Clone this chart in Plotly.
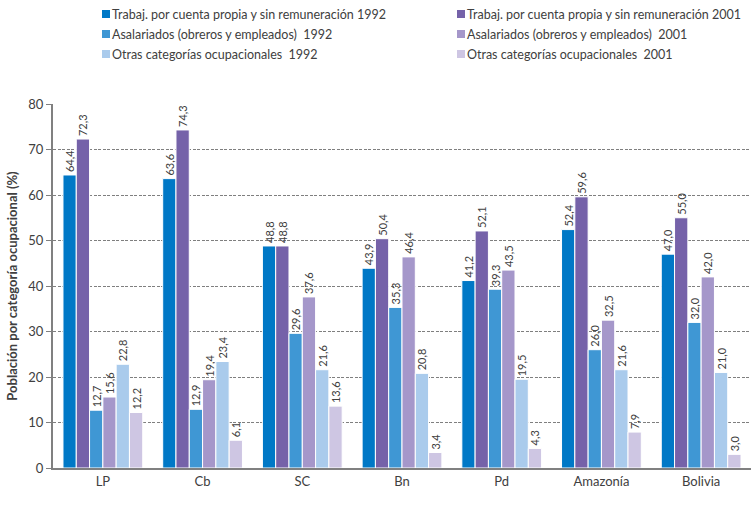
import plotly.graph_objects as go

categories = ["LP", "Cb", "SC", "Bn", "Pd", "Amazonía", "Bolivia"]
series_names = [
    "Trabaj. por cuenta propia y sin remuneración 1992",
    "Trabaj. por cuenta propia y sin remuneración 2001",
    "Asalariados (obreros y empleados)  1992",
    "Asalariados (obreros y empleados)  2001",
    "Otras categorías ocupacionales  1992",
    "Otras categorías ocupacionales  2001",
]
trabaj_1992 = [64.4, 63.6, 48.8, 43.9, 41.2, 52.4, 47.0]
trabaj_2001 = [72.3, 74.3, 48.8, 50.4, 52.1, 59.6, 55.0]
asal_1992 = [12.7, 12.9, 29.6, 35.3, 39.3, 26.0, 32.0]
asal_2001 = [15.6, 19.4, 37.6, 46.4, 43.5, 32.5, 42.0]
otras_1992 = [22.8, 23.4, 21.6, 20.8, 19.5, 21.6, 21.0]
otras_2001 = [12.2, 6.1, 13.6, 3.4, 4.3, 7.9, 3.0]
colors = ["#0078C6", "#7562A9", "#3F97D4", "#A597CA", "#AACBEC", "#CEC6E3"]
y_ticks = [0, 10, 20, 30, 40, 50, 60, 70, 80]

FONT = "Lato, 'Open Sans', sans-serif"
W, H = 751, 522
ML, MR, MT, MB = 53, 0, 104, 54
PW, PH = W - ML - MR, H - MT - MB


def px_x(px):
    return (px - ML) / PW


def px_y(py):
    return (H - MB - py) / PH


fig = go.Figure()
for name, vals, col in zip(series_names,
                           [trabaj_1992, trabaj_2001, asal_1992, asal_2001, otras_1992, otras_2001],
                           colors):
    fig.add_trace(go.Bar(
        name=name, x=categories, y=vals,
        marker=dict(color=col, line=dict(color="white", width=1)),
        texttemplate="%{y:.1f}", textposition="outside", textangle=-90,
        textfont=dict(size=11, color="#404040", family=FONT),
        constraintext="none", cliponaxis=False, showlegend=False,
    ))

# custom legend (two columns, three rows)
col_x = [102, 457]
row_y = [14, 34, 54]
shapes, annots = [], []
for i, (name, col) in enumerate(zip(series_names, colors)):
    cx = col_x[i % 2]
    cy = row_y[i // 2]
    shapes.append(dict(type="rect", xref="paper", yref="paper",
                       x0=px_x(cx), x1=px_x(cx + 8), y0=px_y(cy + 4), y1=px_y(cy - 4),
                       fillcolor=col, line=dict(width=0)))
    annots.append(dict(xref="paper", yref="paper", x=px_x(cx + 9), y=px_y(cy),
                       xanchor="left", yanchor="middle", showarrow=False, borderpad=0,
                       text=name, font=dict(size=12.5, color="#404040", family=FONT)))

fig.update_layout(
    width=W, height=H,
    margin=dict(l=ML, r=MR, t=MT, b=MB),
    paper_bgcolor="white", plot_bgcolor="white",
    barmode="group", bargap=0.2, bargroupgap=0,
    separators=",.",
    font=dict(family=FONT, size=13, color="#404040"),
    showlegend=False,
    shapes=shapes, annotations=annots,
)
fig.update_xaxes(showline=True, linecolor="#808080", linewidth=2, ticks="",
                 tickfont=dict(size=13, color="#404040"))
fig.update_yaxes(range=[0, 80], tickvals=y_ticks, showgrid=True,
                 gridcolor="#7f7f7f", griddash="3px,1.5px", gridwidth=1,
                 showline=True, linecolor="#808080", linewidth=2,
                 ticks="outside", ticklen=5, tickcolor="#808080",
                 tickfont=dict(size=13, color="#404040"),
                 zeroline=False,
                 title=dict(text="<b>Población por categoría ocupacional (%)</b>",
                            font=dict(size=13, color="#404040"), standoff=8))
fig.write_html("out.html")
